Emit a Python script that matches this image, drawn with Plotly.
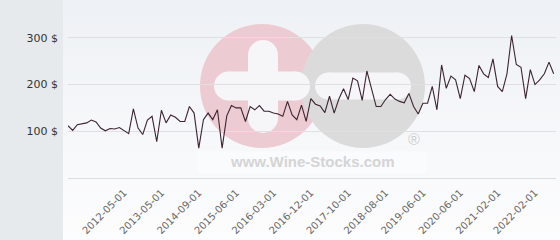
import plotly.graph_objects as go

# ---- data ----
prices = [112, 102, 114, 116, 118, 124, 120, 107, 101, 106,
          105, 108, 101, 95, 148, 107, 93, 124, 132, 78,
          145, 118, 135, 130, 121, 121, 153, 139, 64, 125,
          139, 125, 146, 64, 133, 155, 150, 150, 121, 153,
          146, 155, 143, 143, 139, 137, 132, 164, 135, 125,
          156, 121, 170, 158, 154, 140, 175, 139, 169, 191,
          168, 214, 208, 166, 229, 193, 153, 153, 168, 179,
          169, 164, 161, 181, 153, 137, 160, 160, 196, 146,
          242, 192, 218, 210, 170, 220, 213, 185, 241, 223,
          215, 255, 196, 185, 223, 305, 243, 237, 170, 232,
          200, 210, 223, 248, 223]
tick_idx = [12, 20, 28, 36, 44, 52, 60, 68, 76, 84, 92, 100]
tick_labels = ["2012-05-01", "2013-05-01", "2014-09-01", "2015-06-01",
               "2016-03-01", "2016-12-01", "2017-10-01", "2018-08-01",
               "2019-06-01", "2020-06-01", "2021-02-01", "2022-02-01"]
y_ticks = [0, 100, 200, 300]
y_labels = ["", "100 $", "200 $", "300 $"]

# ---- geometry helpers (pixels -> paper) ----
W, H = 560, 240
L, R, T, B = 68, 4, 0, 62
PW, PH = W - L - R, H - T - B


def fx(x):
    return (x - L) / PW


def fy(y):
    return (T + PH - y) / PH


shapes = []


def rect(x0, y0, x1, y1, color, opacity=1.0):
    shapes.append(dict(type="rect", xref="paper", yref="paper",
                       x0=fx(x0), x1=fx(x1), y0=fy(y1), y1=fy(y0),
                       fillcolor=color, opacity=opacity,
                       line=dict(width=0), layer="below"))


def circle(cx, cy, r, color):
    shapes.append(dict(type="circle", xref="paper", yref="paper",
                       x0=fx(cx - r), x1=fx(cx + r), y0=fy(cy + r), y1=fy(cy - r),
                       fillcolor=color, line=dict(width=0), layer="below"))


def pill_h(x0, x1, yc, t, color):
    r = t / 2
    rect(x0 + r, yc - r, x1 - r, yc + r, color)
    circle(x0 + r, yc, r, color)
    circle(x1 - r, yc, r, color)


def pill_v(xc, y0, y1, t, color):
    r = t / 2
    rect(xc - r, y0 + r, xc + r, y1 - r, color)
    circle(xc, y0 + r, r, color)
    circle(xc, y1 - r, r, color)


# background gradient on the right, grey panel on the left
n = 30
top = (238, 241, 245)
bot = (253, 253, 254)
for i in range(n):
    t0 = i / n
    c = tuple(round(top[k] + (bot[k] - top[k]) * t0) for k in range(3))
    rect(63, i * H / n, W, (i + 1) * H / n + 0.5, "rgb(%d,%d,%d)" % c)
rect(0, 0, 63, H, "#e7eaed")

# watermark
pink = "#ecccd2"
grey = "#dbdbdc"
inner = "#f6f6f8"
circle(262, 86, 62, pink)
circle(363, 86, 62, grey)
pill_v(263, 40, 133, 30, inner)
pill_h(214, 310, 86, 29, inner)
pill_h(315, 411, 86, 27, inner)
rect(197, 151, 427, 173, "white", 0.3)

fig = go.Figure()
fig.add_trace(go.Scatter(
    x=list(range(len(prices))), y=prices, mode="lines",
    line=dict(color="#3b2430", width=1.1),
    hoverinfo="skip",
))

fig.update_layout(
    width=W, height=H,
    margin=dict(l=L, r=R, t=T, b=B),
    paper_bgcolor="white",
    plot_bgcolor="rgba(0,0,0,0)",
    showlegend=False,
    shapes=shapes,
    annotations=[
        dict(text="<b>www.Wine-Stocks.com</b>", xref="paper", yref="paper",
             x=fx(312), y=fy(161.5), xanchor="center", yanchor="middle",
             showarrow=False,
             font=dict(family="Liberation Sans", size=15, color="#d4d4d6")),
        dict(text="®", xref="paper", yref="paper",
             x=fx(413.5), y=fy(139), xanchor="center", yanchor="middle",
             showarrow=False,
             font=dict(family="Liberation Sans", size=16, color="#d0d0d2")),
    ],
    xaxis=dict(range=[0, 104.5], tickmode="array", tickvals=tick_idx,
               ticktext=tick_labels, tickangle=-45, showgrid=False,
               zeroline=False, showline=True, linecolor="#dedede", linewidth=1,
               ticks="outside", ticklen=4, tickcolor="rgba(0,0,0,0)",
               fixedrange=True,
               tickfont=dict(family="DejaVu Sans", size=10, color="#666666")),
    yaxis=dict(range=[0, 381], tickmode="array", tickvals=y_ticks,
               ticktext=y_labels, showgrid=True, gridcolor="#e0e0e0",
               gridwidth=1, zeroline=False, ticks="", ticklabelstandoff=9,
               tickfont=dict(family="DejaVu Sans", size=11, color="#333333")),
)

fig.write_html("out.html")
